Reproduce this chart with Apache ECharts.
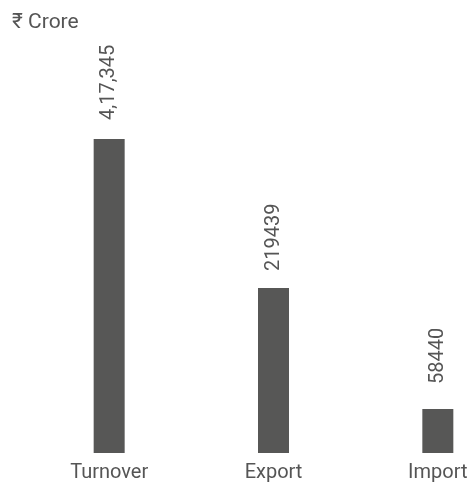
<!DOCTYPE html>
<html>
<head>
<meta charset="utf-8">
<script src="https://cdn.jsdelivr.net/npm/echarts@6/dist/echarts.min.js"></script>
<style>
  html, body { margin: 0; padding: 0; background: #fff; }
  #chart { width: 474px; height: 485px; }
</style>
</head>
<body>
<div id="chart"></div>
<script>
const categories = ['Turnover', 'Export', 'Import']
const values = [417345, 219439, 58440]
const valueLabels = ['4,17,345', '219439', '58440']

const chart = echarts.init(document.getElementById('chart'))

// gap between bar top and rotated value label, per bar
const labelGap = [19, 17, 25]

const option = {
  animation: false,
  textStyle: { fontFamily: 'Roboto' },
  title: {
    text: '₹ Crore',
    left: 7,
    top: 7,
    textStyle: { fontSize: 21, fontWeight: 'normal', color: '#555', fontFamily: 'Roboto' }
  },
  grid: { left: 27, width: 493, top: 139, bottom: 32, outerBoundsMode: 'none', containLabel: false },
  xAxis: {
    type: 'category',
    data: categories,
    axisLine: { show: false },
    axisTick: { show: false },
    axisLabel: { color: '#555', fontSize: 20, margin: 10, fontFamily: 'Roboto' }
  },
  yAxis: {
    type: 'value',
    min: 0,
    max: 417345,
    show: false,
    splitLine: { show: false }
  },
  series: [
    {
      type: 'bar',
      data: values.map((v, i) => ({ value: v, label: { distance: labelGap[i] } })),
      barWidth: 31,
      itemStyle: { color: '#575756' },
      label: {
        show: true,
        position: 'top',
        rotate: 90,
        align: 'left',
        verticalAlign: 'middle',
        distance: 19,
        color: '#555',
        fontSize: 20,
        fontFamily: 'Roboto',
        formatter: p => valueLabels[p.dataIndex]
      }
    }
  ]
}

chart.setOption(option)
</script>
</body>
</html>
